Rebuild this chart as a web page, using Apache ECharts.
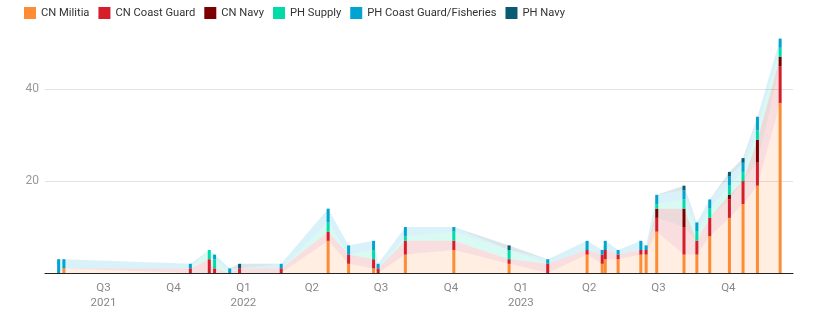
<!DOCTYPE html>
<html>
<head>
<meta charset="utf-8">
<script src="https://cdn.jsdelivr.net/npm/echarts@6/dist/echarts.min.js"></script>
<style>
html,body{margin:0;padding:0;background:#fff;}
#chart{width:826px;height:323px;}
</style>
</head>
<body>
<div id="chart"></div>
<script>
// ---- data ----
var dates = ['2021-05-01','2021-05-08','2021-10-22','2021-11-16','2021-11-23','2021-12-13','2021-12-26','2022-02-19','2022-04-22','2022-05-19','2022-06-21','2022-06-27','2022-08-02','2022-10-05','2022-12-17','2023-02-06','2023-03-30','2023-04-19','2023-04-23','2023-05-10','2023-06-09','2023-06-16','2023-06-30','2023-08-05','2023-08-22','2023-09-08','2023-10-04','2023-10-22','2023-11-10','2023-12-10'];
var cnMilitia     = [0,1,0,0,0,0,0,0,7,2,1,0,4,5,2,0,4,2,3,3,4,4,9,4,4,8,12,15,19,37];
var cnCoastGuard  = [0,0,1,3,1,0,1,1,2,2,2,1,3,2,1,2,1,2,2,1,1,1,3,6,3,4,4,5,5,8];
var cnNavy        = [0,0,0,0,0,0,0,0,0,0,0,0,0,0,0,0,0,0,0,0,0,0,2,4,0,0,1,0,5,2];
var phSupply      = [0,0,0,2,2,0,0,0,2,0,2,0,1,2,2,0,0,0,0,0,0,0,1,2,2,2,2,2,2,2];
var phCoastGuard  = [3,2,1,0,1,1,0,1,3,2,2,1,2,1,0,1,2,1,2,1,2,1,2,2,2,2,2,2,3,2];
var phNavy        = [0,0,0,0,0,0,1,0,0,0,0,0,0,0,1,0,0,0,0,0,0,0,0,1,0,0,1,1,0,0];
var seriesNames   = ['CN Militia','CN Coast Guard','CN Navy','PH Supply','PH Coast Guard/Fisheries','PH Navy'];
var quarterTicks  = ['2021-07-01','2021-10-01','2022-01-01','2022-04-01','2022-07-01','2022-10-01','2023-01-01','2023-04-01','2023-07-01','2023-10-01'];
var quarterLabels = ['Q3\n2021','Q4','Q1\n2022','Q2','Q3','Q4','Q1\n2023','Q2','Q3','Q4'];
var xMin = '2021-04-15', xMax = '2023-12-25';

// ---- chart ----
var colors = ['#fd8c35','#d41f2b','#7d0000','#00dca8','#00a4cf','#0a5a73'];
var values = [cnMilitia, cnCoastGuard, cnNavy, phSupply, phCoastGuard, phNavy];
var P = function(s){ return Date.UTC(+s.slice(0,4), +s.slice(5,7) - 1, +s.slice(8,10)); };
var tickVals = quarterTicks.map(P);

var series = [];
values.forEach(function(arr, i){
  series.push({
    name: 'area' + i, type: 'line', stack: 'area', silent: true,
    symbol: 'none', smooth: false, z: 1, xAxisIndex: 0,
    lineStyle: { width: 0 },
    areaStyle: { color: colors[i], opacity: 0.15 },
    data: dates.map(function(d, k){ return [P(d), arr[k]]; })
  });
});
values.forEach(function(arr, i){
  series.push({
    name: seriesNames[i], type: 'bar', stack: 'bars', barWidth: 3, z: 3, xAxisIndex: 0,
    itemStyle: { color: colors[i] },
    data: dates.map(function(d, k){ return [P(d), arr[k]]; })
  });
});

var chart = echarts.init(document.getElementById('chart'), null, {renderer: 'canvas'});
chart.setOption({
  animation: false,
  textStyle: { fontFamily: 'Roboto' },
  legend: {
    data: seriesNames, left: 24, top: 7, icon: 'rect', padding: 0,
    itemWidth: 12, itemHeight: 12, itemGap: 9,
    textStyle: { fontFamily: 'Roboto', fontSize: 11.2, color: '#333' }
  },
  grid: { left: 45, right: 33, top: 34, bottom: 50, containLabel: false },
  xAxis: [{
    type: 'time', min: P(xMin), max: P(xMax), show: false
  }, {
    type: 'value', min: P(xMin), max: P(xMax), position: 'bottom',
    axisLine: { show: true, onZero: false, lineStyle: { color: '#222', width: 1.2 } },
    axisTick: { show: false },
    splitLine: { show: false },
    axisLabel: {
      customValues: tickVals,
      formatter: function(v){ var i = tickVals.indexOf(v); return i >= 0 ? quarterLabels[i] : ''; },
      color: '#888', fontSize: 11.5, lineHeight: 15, margin: 8, fontFamily: 'Roboto', hideOverlap: false
    }
  }],
  yAxis: {
    type: 'value', min: 0, max: 52, interval: 20,
    axisLine: { show: false }, axisTick: { show: false },
    splitLine: { show: true, showMaxLine: false, showMinLine: false, lineStyle: { color: '#e2e2e2', width: 1 } },
    axisLabel: { showMinLabel: false, showMaxLabel: false, color: '#999', fontSize: 12, margin: 6, fontFamily: 'Roboto' }
  },
  series: series
});
</script>
</body>
</html>
